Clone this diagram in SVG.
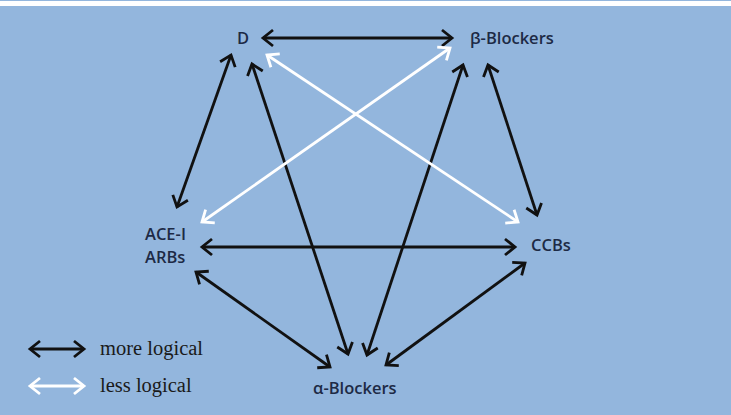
<svg xmlns="http://www.w3.org/2000/svg" width="731" height="415" viewBox="0 0 731 415">
<defs>
<style>
.lbl{font-family:"Open Sans","Noto Sans",sans-serif;font-size:16.5px;font-weight:600;fill:#1d2a45}
.leg{font-family:"Liberation Serif","Times New Roman",serif;font-size:20.5px;fill:#1a1a1a}
.blk{stroke:#111;stroke-width:2.8;fill:none}
.wht{stroke:#fff;stroke-width:2.8;fill:none}
</style>
<marker id="hb" viewBox="-14 -10 20 20" refX="0" refY="0" markerWidth="20" markerHeight="20" markerUnits="userSpaceOnUse" orient="auto-start-reverse">
<path d="M-10,-8 L0,0 L-10,8" fill="none" stroke="#111" stroke-width="2.8"/>
</marker>
<marker id="hw" viewBox="-14 -10 20 20" refX="0" refY="0" markerWidth="20" markerHeight="20" markerUnits="userSpaceOnUse" orient="auto-start-reverse">
<path d="M-10,-8 L0,0 L-10,8" fill="none" stroke="#fff" stroke-width="2.8"/>
</marker>
</defs>
<rect x="0" y="0" width="731" height="415" fill="#93b6dd"/>
<rect x="0" y="1" width="731" height="5" fill="#ffffff"/>
<g id="connectors">
<line class="blk" x1="263" y1="38" x2="452" y2="38" marker-start="url(#hb)" marker-end="url(#hb)"/>
<line class="blk" x1="231" y1="55" x2="177" y2="207" marker-start="url(#hb)" marker-end="url(#hb)"/>
<line class="blk" x1="252" y1="64" x2="348" y2="354" marker-start="url(#hb)" marker-end="url(#hb)"/>
<line class="blk" x1="463" y1="65" x2="367" y2="355" marker-start="url(#hb)" marker-end="url(#hb)"/>
<line class="blk" x1="488" y1="65" x2="537" y2="215" marker-start="url(#hb)" marker-end="url(#hb)"/>
<line class="blk" x1="202" y1="247" x2="515" y2="247" marker-start="url(#hb)" marker-end="url(#hb)"/>
<line class="blk" x1="196" y1="272" x2="330" y2="367" marker-start="url(#hb)" marker-end="url(#hb)"/>
<line class="blk" x1="525" y1="263" x2="386" y2="365" marker-start="url(#hb)" marker-end="url(#hb)"/>
<line class="wht" x1="267" y1="55" x2="518" y2="222" marker-start="url(#hw)" marker-end="url(#hw)"/>
<line class="wht" x1="450" y1="48" x2="202" y2="222" marker-start="url(#hw)" marker-end="url(#hw)"/>
</g>
<g id="node-d"><text class="lbl" x="237" y="44">D</text></g>
<g id="node-beta"><text class="lbl" x="470" y="44">β-Blockers</text></g>
<g id="node-ace"><text class="lbl" x="145" y="240">ACE-I</text><text class="lbl" x="145" y="263">ARBs</text></g>
<g id="node-ccb"><text class="lbl" x="531" y="251">CCBs</text></g>
<g id="node-alpha"><text class="lbl" x="313" y="394">α-Blockers</text></g>
<g id="legend">
<line class="blk" x1="30" y1="349" x2="84" y2="349" marker-start="url(#hb)" marker-end="url(#hb)"/>
<line class="wht" x1="30" y1="386" x2="84" y2="386" marker-start="url(#hw)" marker-end="url(#hw)"/>
<text class="leg" x="100" y="355">more logical</text>
<text class="leg" x="100" y="392">less logical</text>
</g>
</svg>
